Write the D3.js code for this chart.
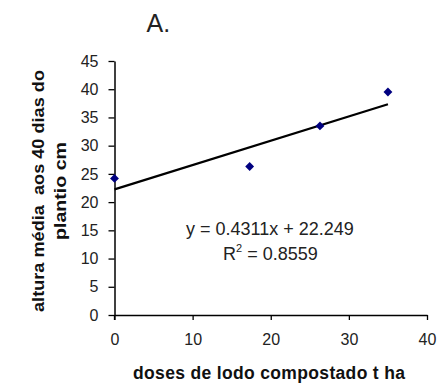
<!DOCTYPE html>
<html><head><meta charset="utf-8">
<script src="https://cdn.jsdelivr.net/npm/d3@7"></script>
<style>body{margin:0;background:#fff}svg{display:block}text{font-family:"Liberation Sans",Arial,sans-serif}</style>
</head><body>
<svg id="c" width="438" height="383"></svg>
<script>
const doses = [0, 17.3, 26.3, 35];
const altura = [24.2, 26.3, 33.5, 39.5];
const xTicks = [0, 10, 20, 30, 40];
const yTicks = [0, 5, 10, 15, 20, 25, 30, 35, 40, 45];
const slope = 0.4311, intercept = 22.249;
const eqLabel = "y = 0.4311x + 22.249";
const r2Value = "0.8559";

const svg = d3.select("#c");
const x = d3.scaleLinear().domain([0, 40]).range([114.5, 427]);
const y = d3.scaleLinear().domain([0, 45]).range([315, 61]);

const xa = svg.append("g").attr("transform", "translate(0,315)")
  .call(d3.axisBottom(x).tickValues(xTicks).tickSize(5).tickPadding(14).tickSizeOuter(0));
const ya = svg.append("g").attr("transform", "translate(114.5,0)")
  .call(d3.axisLeft(y).tickValues(yTicks).tickSize(6).tickPadding(10).tickSizeOuter(0));
[xa, ya].forEach(a => {
  a.select(".domain").attr("stroke", "#000").attr("stroke-width", 1.5);
  a.selectAll(".tick line").attr("stroke", "#000").attr("stroke-width", 1.3);
  a.selectAll(".tick text").attr("font-size", 16).attr("fill", "#222")
    .attr("font-family", "'Liberation Sans',Arial,sans-serif");
});
svg.append("line").attr("x1", 114.5).attr("x2", 114.5).attr("y1", 315).attr("y2", 320).attr("stroke", "#000").attr("stroke-width", 1.3);

// trendline
const xr = d3.extent(doses);
svg.append("line")
  .attr("x1", x(xr[0])).attr("y1", y(intercept + slope * xr[0]))
  .attr("x2", x(xr[1])).attr("y2", y(intercept + slope * xr[1]))
  .attr("stroke", "#000").attr("stroke-width", 2.3);

// points
svg.selectAll("path.pt").data(doses).join("path").attr("class", "pt")
  .attr("d", d3.symbol(d3.symbolDiamond2, 50)())
  .attr("transform", (d, i) => `translate(${x(d)},${y(altura[i])})`)
  .attr("fill", "#000080");

// title
svg.append("text").attr("x", 146.5).attr("y", 31.5)
  .attr("font-size", 25).attr("fill", "#222").text("A.");

// equation
svg.append("text").attr("x", 186).attr("y", 235)
  .attr("font-size", 18).attr("fill", "#222").text(eqLabel);
const r2 = svg.append("text").attr("x", 223).attr("y", 260)
  .attr("font-size", 18).attr("fill", "#222");
r2.append("tspan").text("R");
r2.append("tspan").attr("font-size", 11).attr("dy", -8).text("2");
r2.append("tspan").attr("dy", 8).text(" = " + r2Value);

// y label
const yl = svg.append("text").attr("transform", "translate(44,191) rotate(-90)")
  .attr("text-anchor", "middle").attr("font-size", 17).attr("font-weight", "bold").attr("fill", "#111")
  .style("white-space", "pre");
yl.append("tspan").attr("x", 0).attr("y", 0)
  .attr("textLength", 242).attr("lengthAdjust", "spacingAndGlyphs").text("altura média  aos 40 dias do");
yl.append("tspan").attr("x", 0).attr("y", 22)
  .attr("textLength", 98).attr("lengthAdjust", "spacingAndGlyphs").text("plantio cm");

// x label
svg.append("text").attr("x", 269).attr("y", 379).attr("text-anchor", "middle")
  .attr("font-size", 17.5).attr("font-weight", "bold").attr("fill", "#111")
  .attr("textLength", 272).attr("lengthAdjust", "spacing")
  .text("doses de lodo compostado t ha");
</script>
</body></html>
